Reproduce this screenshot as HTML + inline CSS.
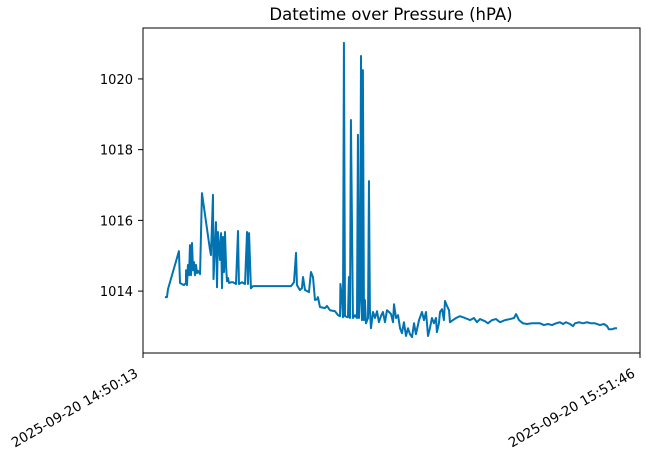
<!DOCTYPE html>
<html><head><meta charset="utf-8">
<style>
html,body{margin:0;padding:0;background:#fff;}
svg{display:block;font-family:"DejaVu Sans","Liberation Sans",sans-serif;}
</style></head>
<body>
<svg id="chart" width="646" height="458" viewBox="0 0 646 458" xmlns="http://www.w3.org/2000/svg">
<rect width="646" height="458" fill="#fff"/>
<text x="391" y="20" text-anchor="middle" font-size="16.5" fill="#000">Datetime over Pressure (hPA)</text>
<g id="yaxis"></g>
<g id="xaxis"></g>
<path id="line" fill="none" stroke="#0173b2" stroke-width="2" stroke-linejoin="round"/>
<rect x="143" y="28" width="497" height="325" fill="none" stroke="#000" stroke-width="1"/>
</svg>
<script>
const seconds = [163,178,186,267,275,305,319,320,327,334,342,349,357,364,372,379,386,394,401,409,424,438,498,505,520,524,542,550,557,572,580,587,594,602,609,617,624,632,639,654,669,691,706,713,736,758,773,780,788,802,817,1100,1122,1137,1144,1166,1181,1189,1204,1233,1248,1263,1278,1293,1300,1315,1352,1367,1389,1427,1449,1464,1467,1479,1486,1493,1501,1523,1530,1538,1545,1560,1575,1590,1597,1605,1612,1620,1627,1634,1642,1649,1657,1672,1679,1686,1694,1709,1724,1739,1753,1768,1783,1798,1813,1828,1843,1858,1865,1880,1895,1910,1924,1939,1954,1969,1984,1999,2014,2028,2051,2073,2088,2103,2118,2132,2147,2162,2177,2184,2199,2207,2222,2236,2244,2259,2274,2281,2303,2326,2355,2392,2430,2459,2482,2504,2541,2563,2593,2623,2653,2690,2727,2757,2772,2794,2823,2853,2890,2920,2950,2979,3009,3039,3069,3098,3121,3143,3173,3195,3210,3240,3269,3299,3329,3358,3396,3425,3448,3462,3485,3507,3522];
const pressure = [1013.83,1013.83,1014.06,1015.13,1014.23,1014.17,1014.23,1014.59,1014.17,1014.74,1014.45,1015.30,1014.45,1015.36,1014.59,1014.82,1014.45,1014.74,1014.51,1014.57,1014.48,1016.77,1015.16,1015.02,1016.72,1014.34,1015.95,1014.11,1015.67,1014.88,1015.64,1014.08,1015.53,1014.54,1015.67,1014.74,1014.28,1014.37,1014.23,1014.25,1014.25,1014.20,1015.70,1014.20,1014.25,1014.20,1015.67,1014.20,1015.64,1014.08,1014.14,1014.14,1014.25,1015.08,1014.17,1014.03,1014.08,1014.40,1014.03,1013.97,1014.54,1014.40,1013.75,1013.77,1013.83,1013.55,1013.52,1013.58,1013.46,1013.43,1013.32,1013.29,1014.20,1013.75,1013.26,1021.02,1013.29,1013.26,1014.40,1013.24,1018.84,1013.24,1013.32,1013.24,1018.42,1013.24,1013.75,1020.65,1013.18,1020.25,1013.18,1013.75,1013.09,1013.24,1017.11,1013.46,1012.95,1013.41,1013.24,1013.43,1013.12,1013.29,1013.41,1013.12,1013.46,1013.41,1013.35,1013.12,1013.63,1013.24,1013.32,1012.95,1012.81,1013.12,1012.73,1012.95,1012.78,1012.70,1013.09,1012.78,1013.18,1013.41,1013.18,1013.41,1012.73,1012.95,1013.24,1013.09,1013.24,1012.84,1013.09,1013.41,1013.49,1013.18,1013.72,1013.58,1013.46,1013.12,1013.18,1013.24,1013.29,1013.24,1013.18,1013.24,1013.12,1013.21,1013.15,1013.09,1013.18,1013.21,1013.12,1013.18,1013.21,1013.24,1013.35,1013.18,1013.09,1013.07,1013.09,1013.09,1013.09,1013.04,1013.07,1013.04,1013.09,1013.12,1013.07,1013.12,1013.07,1013.01,1013.09,1013.12,1013.09,1013.12,1013.09,1013.09,1013.04,1013.07,1013.01,1012.92,1012.92,1012.95,1012.95];
const yTicks = [1014,1016,1018,1020];
const xTickLabels = ["2025-09-20 14:50:13","2025-09-20 15:51:46"];
const xTickSeconds = [0,3693];

const X0=143,X1=640,Y0=28,Y1=353;
const xMin=0,xMax=3693,yMin=1012.25,yMax=1021.44;
function xs(v){return X0+(v-xMin)/(xMax-xMin)*(X1-X0);}
function ys(v){return Y1-(v-yMin)/(yMax-yMin)*(Y1-Y0);}
const NS="http://www.w3.org/2000/svg";
const yg=document.getElementById('yaxis'), xg=document.getElementById('xaxis');
yTicks.forEach(t=>{
  const y=ys(t);
  const l=document.createElementNS(NS,'line');
  l.setAttribute('x1',X0-5);l.setAttribute('x2',X0);l.setAttribute('y1',y);l.setAttribute('y2',y);l.setAttribute('stroke','#000');
  
  
  yg.appendChild(l);
  const tx=document.createElementNS(NS,'text');
  tx.setAttribute('x',X0-10);tx.setAttribute('y',y+5);tx.setAttribute('text-anchor','end');tx.setAttribute('font-size','13');
  tx.textContent=t;
  
  
  yg.appendChild(tx);
});
xTickSeconds.forEach((s,i)=>{
  const x=xs(s);
  const l=document.createElementNS(NS,'line');
  l.setAttribute('x1',x);l.setAttribute('x2',x);l.setAttribute('y1',Y1);l.setAttribute('y2',Y1+5);l.setAttribute('stroke','#000');
  
  
  xg.appendChild(l);
  const tx=document.createElementNS(NS,'text');
  const ax=x-4, ay=Y1+23;
  tx.setAttribute('x',ax);tx.setAttribute('y',ay);tx.setAttribute('text-anchor','end');tx.setAttribute('font-size','13.5');
  tx.setAttribute('transform','rotate(-30 '+ax+' '+ay+')');
  tx.textContent=xTickLabels[i];
  
  
  xg.appendChild(tx);
});
let d='';
seconds.forEach((s,i)=>{d+=(i?'L':'M')+xs(s).toFixed(2)+','+ys(pressure[i]).toFixed(2);});
document.getElementById('line').setAttribute('d',d);
</script>
</body></html>
